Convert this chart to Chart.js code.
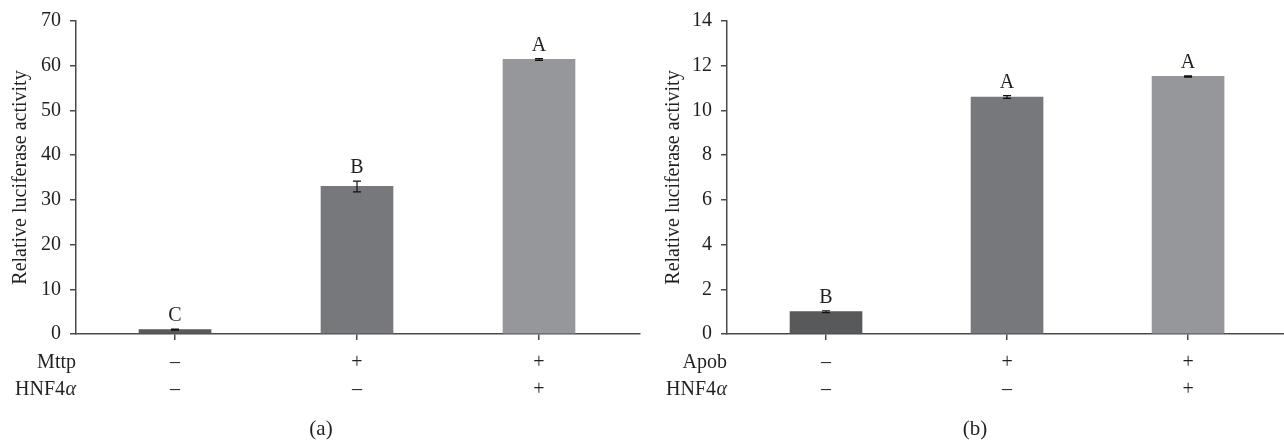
<!DOCTYPE html>
<html><head><meta charset="utf-8">
<script src="https://cdn.jsdelivr.net/npm/chart.js@4/dist/chart.umd.min.js"></script>
<style>
html,body{margin:0;padding:0;background:#fff;}
#wrap{position:relative;width:1284px;height:443px;overflow:hidden;}
.panel{position:absolute;top:0;width:642px;height:443px;}
</style></head><body>
<div id="wrap">
<div class="panel" style="left:0"><canvas id="ca" width="642" height="443"></canvas></div>
<div class="panel" style="left:642px"><canvas id="cb" width="642" height="443"></canvas></div>
</div>
<script>
// ---- Panel (a) data ----
const groupsA = [0, 1, 2];
const valuesA = [1.0, 33.0, 61.4];
const errorsA = [0.12, 1.2, 0.2];
const lettersA = ['C', 'B', 'A'];
const row1NameA = 'Mttp';
const row1A = ['–', '+', '+'];
const row2A = ['–', '–', '+'];
const yMaxA = 70, yStepA = 10;
const captionA = '(a)';

// ---- Panel (b) data ----
const groupsB = [0, 1, 2];
const valuesB = [1.0, 10.6, 11.52];
const errorsB = [0.04, 0.06, 0.03];
const lettersB = ['B', 'A', 'A'];
const row1NameB = 'Apob';
const row1B = ['–', '+', '+'];
const row2B = ['–', '–', '+'];
const yMaxB = 14, yStepB = 2;
const captionB = '(b)';

const row2Name = 'HNF4';
const row2Greek = 'α';
const yTitle = 'Relative luciferase activity';
const barColors = ['#58595b', '#77787c', '#96979a'];

const FONT = '"Liberation Serif", "DejaVu Serif", serif';
const FS = 20;
const TXT = '#231f20';
const AX = '#4a4a4a';

function makePanel(id, cfg) {
  const decor = {
    id: 'decor',
    afterDatasetsDraw(chart) {
      const ctx = chart.ctx;
      const xs = chart.scales.x, ys = chart.scales.y;
      ctx.save();
      ctx.strokeStyle = '#111';
      ctx.lineWidth = 1.2;
      ctx.fillStyle = TXT;
      ctx.font = FS + 'px ' + FONT;
      ctx.textAlign = 'center';
      ctx.textBaseline = 'alphabetic';
      cfg.groups.forEach((g, i) => {
        const x = xs.getPixelForValue(g);
        const yt = ys.getPixelForValue(cfg.values[i] + cfg.errors[i]);
        const yb = ys.getPixelForValue(cfg.values[i] - cfg.errors[i]);
        ctx.beginPath();
        ctx.moveTo(x, yt); ctx.lineTo(x, yb);
        ctx.moveTo(x - 4, yt); ctx.lineTo(x + 4, yt);
        ctx.moveTo(x - 4, yb); ctx.lineTo(x + 4, yb);
        ctx.stroke();
        ctx.fillText(cfg.letters[i], x, yt - 8);
      });
      ctx.restore();
    },
    afterDraw(chart) {
      const ctx = chart.ctx;
      const ca = chart.chartArea;
      ctx.save();
      ctx.fillStyle = TXT;
      ctx.textBaseline = 'middle';
      ctx.textAlign = 'right';
      ctx.font = FS + 'px ' + FONT;
      const xr = ca.left;
      const y1 = ca.bottom + 28.5, y2 = ca.bottom + 55.5;
      ctx.fillText(cfg.row1Name, xr, y1);
      ctx.font = 'italic ' + FS + 'px ' + FONT;
      const gw = ctx.measureText(row2Greek).width;
      ctx.fillText(row2Greek, xr, y2);
      ctx.font = FS + 'px ' + FONT;
      ctx.fillText(row2Name, xr - gw - 0.5, y2);
      ctx.textAlign = 'center';
      ctx.font = (FS + 1) + 'px ' + FONT;
      ctx.fillText(cfg.caption, cfg.capX, 429);
      ctx.restore();
    }
  };

  return new Chart(document.getElementById(id), {
    type: 'bar',
    data: {
      datasets: [{
        data: cfg.groups.map((g, i) => ({ x: g, y: cfg.values[i] })),
        backgroundColor: barColors,
        borderWidth: 0,
        barThickness: 72
      }]
    },
    options: {
      responsive: false,
      devicePixelRatio: 1,
      animation: false,
      layout: { padding: { top: 19, right: cfg.padRight, left: 0, bottom: 0 } },
      plugins: { legend: { display: false }, tooltip: { enabled: false } },
      scales: {
        x: {
          type: 'linear',
          offset: false,
          min: cfg.xMin, max: cfg.xMax,
          afterBuildTicks: s => { s.ticks = cfg.groups.map(v => ({ value: v })); },
          afterFit: s => { s.height = 109; },
          ticks: {
            autoSkip: false,
            maxRotation: 0,
            padding: 9,
            color: TXT,
            font: { family: FONT, size: FS, lineHeight: 27 / FS },
            callback: (v, i) => [cfg.row1[i], cfg.row2[i]]
          },
          grid: { offset: false, drawOnChartArea: false, drawTicks: true, tickLength: 6, color: AX, lineWidth: 1.5 },
          border: { display: true, color: AX, width: 1.5 }
        },
        y: {
          min: 0, max: cfg.yMax,
          afterFit: s => { s.width = cfg.yWidth; },
          ticks: {
            stepSize: cfg.yStep,
            padding: 9,
            color: TXT,
            font: { family: FONT, size: FS }
          },
          grid: { drawOnChartArea: false, drawTicks: true, tickLength: 6, color: AX, lineWidth: 1.5 },
          border: { display: true, color: AX, width: 1.5 },
          title: {
            display: true, text: yTitle, color: TXT,
            font: { family: FONT, size: FS },
            padding: { top: cfg.titlePad, bottom: 0 }
          }
        }
      }
    },
    plugins: [decor]
  });
}

makePanel('ca', {
  groups: groupsA, values: valuesA, errors: errorsA, letters: lettersA,
  row1Name: row1NameA, row1: row1A, row2: row2A, yMax: yMaxA, yStep: yStepA,
  caption: captionA, capX: 321, yWidth: 76, padRight: 2, titlePad: 9,
  xMin: -0.544, xMax: 2.555
});
makePanel('cb', {
  groups: groupsB, values: valuesB, errors: errorsB, letters: lettersB,
  row1Name: row1NameB, row1: row1B, row2: row2B, yMax: yMaxB, yStep: yStepB,
  caption: captionB, capX: 333, yWidth: 85, padRight: 0, titlePad: 20,
  xMin: -0.547, xMax: 2.53
});
</script>
</body></html>
